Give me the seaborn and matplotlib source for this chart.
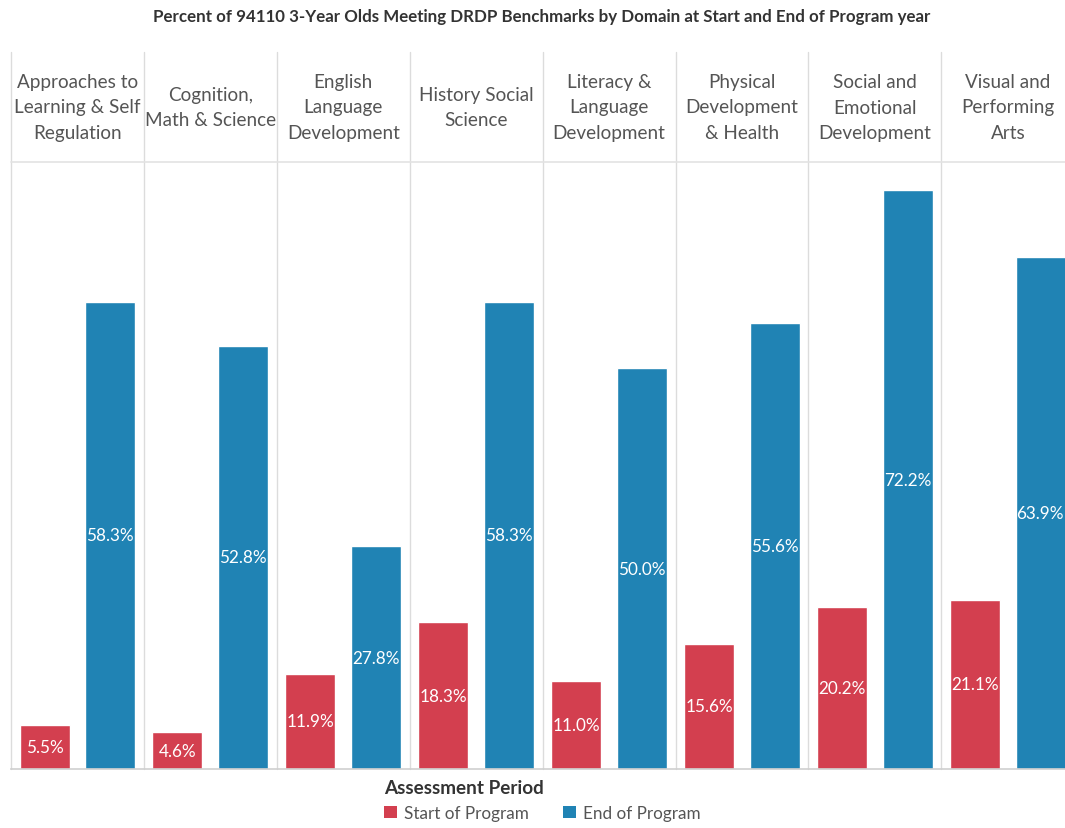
import pandas as pd
import matplotlib
matplotlib.use("Agg")
import matplotlib.pyplot as plt
import seaborn as sns
from matplotlib.patches import Patch

# DATA
domains = [
    "Approaches to\nLearning & Self\nRegulation",
    "Cognition,\nMath & Science",
    "English\nLanguage\nDevelopment",
    "History Social\nScience",
    "Literacy &\nLanguage\nDevelopment",
    "Physical\nDevelopment\n& Health",
    "Social and\nEmotional\nDevelopment",
    "Visual and\nPerforming\nArts",
]
periods = ["Start of Program", "End of Program"]
start_vals = [5.5, 4.6, 11.9, 18.3, 11.0, 15.6, 20.2, 21.1]
end_vals = [58.3, 52.8, 27.8, 58.3, 50.0, 55.6, 72.2, 63.9]
colors = {"Start of Program": "#d33f4f", "End of Program": "#2083b4"}

df = pd.DataFrame({
    "Domain": domains * 2,
    "Period": [periods[0]] * len(domains) + [periods[1]] * len(domains),
    "Value": start_vals + end_vals,
})

sns.set_style("white")
plt.rcParams["font.family"] = ["Lato", "DejaVu Sans"]

W, H = 1065, 829
fig = plt.figure(figsize=(W / 100, H / 100), dpi=100)
ax_left, ax_bottom, ax_top = 11, 770, 163
ax = fig.add_axes([ax_left / W, (H - ax_bottom) / H, 1 - ax_left / W, (ax_bottom - ax_top) / H])

sns.barplot(data=df, x="Domain", y="Value", hue="Period", hue_order=periods,
            palette=colors, width=0.99, gap=0.24, legend=False, ax=ax,
            saturation=1)

for cont in ax.containers:
    ax.bar_label(cont, labels=[f"{v:.1f}%" for v in cont.datavalues],
                 label_type="center", color="white", fontsize=12.3)

ax.set_xlim(-0.5, 7.43)
ax.set_ylim(0, 75.7)
ax.set_xlabel("")
ax.set_ylabel("")
ax.set_xticks([])
ax.set_yticks([])
for s in ["left", "right", "top"]:
    ax.spines[s].set_visible(False)
ax.spines["bottom"].set_color("#cfcfcf")
ax.spines["bottom"].set_linewidth(1.2)

# header grid
hdr_top = (ax_bottom - 53) / (ax_bottom - ax_top)
for i in range(len(domains)):
    ax.axvline(i - 0.5, ymin=0, ymax=hdr_top, color="#dcdcdc", lw=1, clip_on=False)
ax.axhline(75.7, color="#e3e3e3", lw=1.2, clip_on=False)

hdr_mid = (ax_bottom - 108) / (ax_bottom - ax_top)
trans = ax.get_xaxis_transform()
for i, d in enumerate(domains):
    ax.text(i, hdr_mid, d, transform=trans, ha="center", va="center",
            multialignment="center", fontsize=13.6, color="#555555",
            linespacing=1.58, clip_on=False)

fig.text(0.509, 1 - 17 / H, "Percent of 94110 3-Year Olds Meeting DRDP Benchmarks by Domain at Start and End of Program year",
         ha="center", va="center", fontsize=12.2, fontweight="bold", color="#333333")

handles = [Patch(facecolor=colors[p], edgecolor="none") for p in periods]
leg = fig.legend(handles, periods, title="Assessment Period", ncol=2,
                 loc="upper left", bbox_to_anchor=(369 / W, 1 - 765 / H),
                 frameon=False, fontsize=12.3, handlelength=0.75, handleheight=0.75,
                 handletextpad=0.4, columnspacing=2.0, alignment="left",
                 labelcolor="#555555")
leg.get_title().set_fontsize(13.6)
leg.get_title().set_fontweight("bold")
leg.get_title().set_color("#333333")

fig.savefig("out.png", dpi=100)
